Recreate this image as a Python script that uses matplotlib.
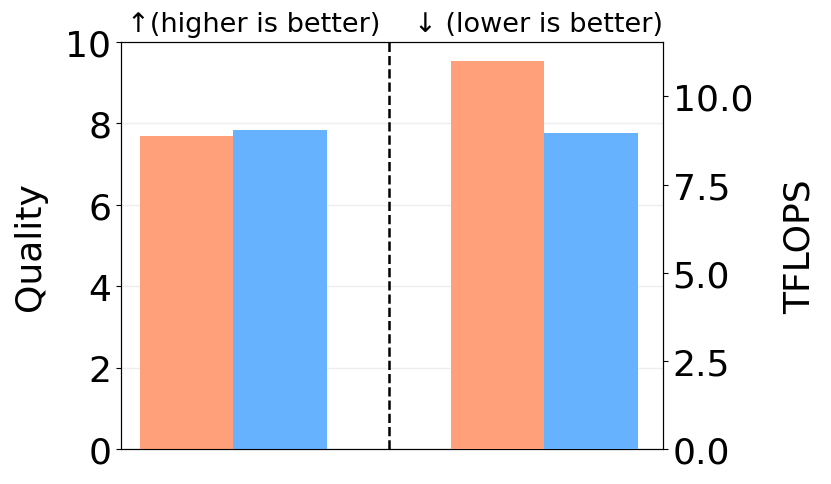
import matplotlib.pyplot as plt
import numpy as np

# values
methods = ['Baseline', 'Ours']
colors = ['#FFA07A', '#66B2FF']
quality = [7.69, 7.85]
tflops = [10.99, 8.95]

width = 0.3
offsets = np.array([-width / 2, width / 2])

fig = plt.figure(figsize=(8.31, 4.85), dpi=100)
ax = fig.add_axes([0.1456, 0.0722, 0.652, 0.839])
ax2 = ax.twinx()

# left group: quality
ax.bar(0 + offsets, quality, width, color=colors, zorder=3)
# right group: TFLOPS
ax2.bar(1 + offsets, tflops, width, color=colors, zorder=3)

ax.set_ylim(0, 10)
ax2.set_ylim(0, max(tflops) * 1.05)
ax.set_xlim(-0.36, 1.38)
ax.set_xticks([])

ax.yaxis.grid(True, color='#eeeeee', linewidth=1, zorder=0)
ax.set_axisbelow(True)
ax.axvline(0.5, color='black', linestyle='--', linewidth=1.8, zorder=4)

ax.set_ylabel('Quality', fontsize=26, labelpad=13)
ax2.set_ylabel('TFLOPS', fontsize=26, labelpad=21)
ax.tick_params(axis='y', labelsize=26)
ax2.tick_params(axis='y', labelsize=26)
ax2.set_yticks([0, 2.5, 5.0, 7.5, 10.0])

ax.text(0.065, 10.12, '↑(higher is better)', fontsize=19.5, ha='center', va='bottom')
ax.text(0.98, 10.12, '↓ (lower is better)', fontsize=19.5, ha='center', va='bottom')

fig.savefig('out.png', dpi=100)
plt.close()
